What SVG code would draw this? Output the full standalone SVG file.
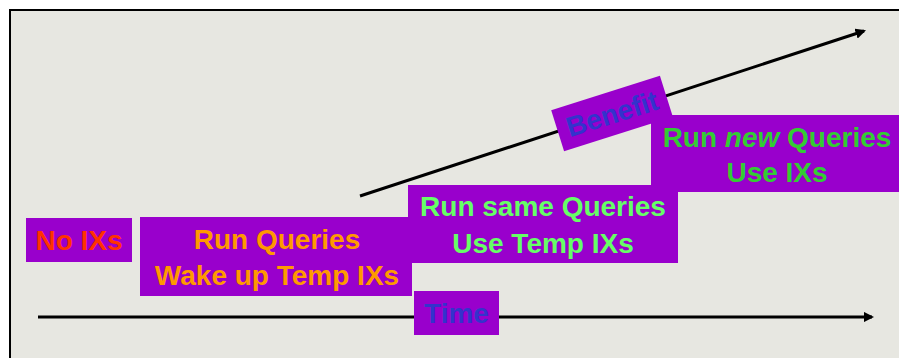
<svg xmlns="http://www.w3.org/2000/svg" width="899" height="358" viewBox="0 0 899 358">
  <defs>
    <marker id="arrow" viewBox="0 0 10 10" refX="8" refY="5" markerWidth="3.5" markerHeight="3.5" markerUnits="strokeWidth" orient="auto">
      <path d="M0,0 L10,5 L0,10 z" fill="#000"/>
    </marker>
  </defs>
  <style>
    .box { fill: #9900CC; }
    .t { font-family: "Liberation Sans", Arial, sans-serif; font-weight: bold; font-size: 28px; text-anchor: middle; }
    .conn { stroke: #000; stroke-width: 3; fill: none; marker-end: url(#arrow); }
  </style>
  <rect x="0" y="0" width="899" height="358" fill="#ffffff"/>
  <rect x="10" y="10" width="900" height="360" fill="#E7E7E1" stroke="#000" stroke-width="2"/>

  <g id="connectors">
    <line class="conn" x1="360" y1="196" x2="864" y2="31"/>
    <line class="conn" x1="38" y1="317" x2="872" y2="317"/>
  </g>

  <g id="benefit">
    <g transform="translate(612,113.5) rotate(-17.5)">
      <rect class="box" x="-57" y="-21.5" width="114" height="43"/>
      <text class="t" x="0" y="10" fill="#3333CC">Benefit</text>
    </g>
  </g>

  <g id="time">
    <rect class="box" x="414" y="291" width="85" height="44"/>
    <text class="t" x="456.5" y="323" fill="#3333CC">Time</text>
  </g>

  <g id="no-ixs">
    <rect class="box" x="26" y="218" width="106" height="44"/>
    <text class="t" x="79" y="250" fill="#FF3300">No IXs</text>
  </g>

  <g id="run-queries">
    <rect class="box" x="140" y="217" width="272" height="79"/>
    <text class="t" x="277" y="249" fill="#FF9900">Run Queries</text>
    <text class="t" x="277" y="285" fill="#FF9900">Wake up Temp IXs</text>
  </g>

  <g id="run-same">
    <rect class="box" x="408" y="185" width="270" height="78"/>
    <text class="t" x="543" y="216" fill="#66FF66">Run same Queries</text>
    <text class="t" x="543" y="252.5" fill="#66FF66">Use Temp IXs</text>
  </g>

  <g id="run-new">
    <rect class="box" x="651" y="115" width="250" height="77"/>
    <text class="t" x="777" y="146.5" fill="#33CC33">Run <tspan font-style="italic">new</tspan> Queries</text>
    <text class="t" x="777" y="181.5" fill="#33CC33">Use IXs</text>
  </g>
</svg>
